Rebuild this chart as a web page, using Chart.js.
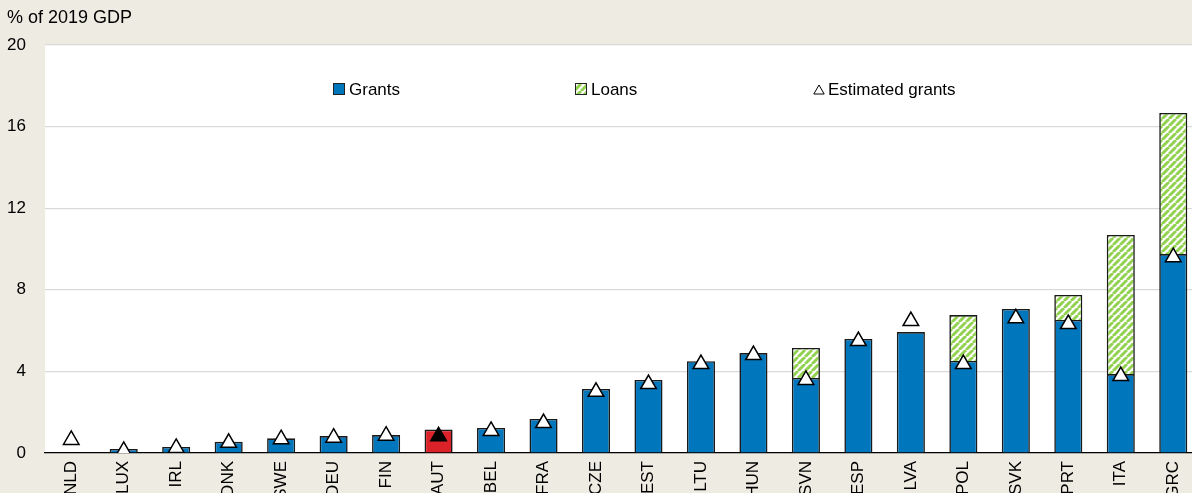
<!DOCTYPE html>
<html>
<head>
<meta charset="utf-8">
<script src="https://cdn.jsdelivr.net/npm/chart.js@4/dist/chart.umd.min.js"></script>
<style>
  html, body { margin: 0; padding: 0; background: #edebe2; overflow: hidden; }
  #wrap { position: relative; width: 1210px; height: 493px; }
</style>
</head>
<body>
<div id="wrap"><canvas id="chart"></canvas></div>
<script>
// Recovery and Resilience Facility, % of 2019 GDP
const COUNTRIES = ['NLD', 'LUX', 'IRL', 'DNK', 'SWE', 'DEU', 'FIN', 'AUT', 'BEL', 'FRA', 'CZE',
  'EST', 'LTU', 'HUN', 'SVN', 'ESP', 'LVA', 'POL', 'SVK', 'PRT', 'ITA', 'GRC']
const GRANTS = [0, 0.2, 0.3, 0.55, 0.72, 0.83, 0.88, 1.15, 1.23, 1.67, 3.14,
  3.58, 4.5, 4.9, 3.68, 5.59, 5.93, 4.51, 7.06, 6.52, 3.87, 9.75]
const LOANS = [0, 0, 0, 0, 0, 0, 0, 0, 0, 0, 0,
  0, 0, 0, 1.47, 0, 0, 2.25, 0, 1.23, 6.82, 6.92]
const ESTIMATED = [0.64, 0.1, 0.25, 0.5, 0.68, 0.75, 0.85, 0.82, 1.08, 1.47, 3.0,
  3.38, 4.36, 4.8, 3.58, 5.49, 6.47, 4.36, 6.6, 6.32, 3.77, 9.6]
const Y_TICKS = [0, 4, 8, 12, 16, 20]
const HIGHLIGHT = 'AUT'

const FONT = '"Liberation Sans", Arial, sans-serif'
const BLUE = '#0076bd'
const RED = '#dc2229'
const GREEN = '#93d150'

function stripes () {
  const size = 7
  const tile = document.createElement('canvas')
  tile.width = size
  tile.height = size
  const g = tile.getContext('2d')
  g.fillStyle = '#ffffff'
  g.fillRect(0, 0, size, size)
  g.strokeStyle = GREEN
  g.lineWidth = 3
  g.beginPath()
  for (const o of [-size, 0, size]) {
    g.moveTo(o, size)
    g.lineTo(o + size, 0)
  }
  g.stroke()
  return g.createPattern(tile, 'repeat')
}

const LOAN_FILL = stripes()

// white plot area on the beige page
const plotBackground = {
  id: 'plotBackground',
  beforeDraw (chart) {
    const { ctx, chartArea } = chart
    ctx.save()
    ctx.fillStyle = '#ffffff'
    ctx.fillRect(chartArea.left, chartArea.top, chartArea.right - chartArea.left, chartArea.bottom - chartArea.top)
    ctx.restore()
  }
}

// axis unit label and the legend row inside the plot
const annotations = {
  id: 'annotations',
  afterDraw (chart) {
    const ctx = chart.ctx
    ctx.save()
    ctx.fillStyle = '#000'
    ctx.textBaseline = 'middle'
    ctx.textAlign = 'left'
    ctx.font = '18px ' + FONT
    ctx.fillText('% of 2019 GDP', 7, 18)

    const y = 89
    ctx.font = '17px ' + FONT
    const sets = chart.data.datasets

    // Grants
    ctx.fillStyle = BLUE
    ctx.fillRect(333, y - 6, 12, 12)
    ctx.strokeStyle = '#222'
    ctx.lineWidth = 1
    ctx.strokeRect(333.5, y - 5.5, 11, 11)
    ctx.fillStyle = '#000'
    ctx.fillText(sets[0].label, 349, y + 1)

    // Loans
    ctx.fillStyle = LOAN_FILL
    ctx.fillRect(575, y - 6, 12, 12)
    ctx.strokeRect(575.5, y - 5.5, 11, 11)
    ctx.fillStyle = '#000'
    ctx.fillText(sets[1].label, 591, y + 1)

    // Estimated grants
    ctx.fillStyle = '#fff'
    ctx.strokeStyle = '#000'
    Chart.helpers.drawPoint(ctx, { pointStyle: 'triangle', radius: 6, borderWidth: 1 }, 819, y + 2)
    ctx.fillStyle = '#000'
    ctx.fillText(sets[2].label, 828, y + 1)
    ctx.restore()
  }
}

new Chart(document.getElementById('chart'), {
  type: 'bar',
  data: {
    labels: COUNTRIES,
    datasets: [
      {
        label: 'Grants',
        data: GRANTS.map((v) => (v > 0 ? v : null)),
        backgroundColor: COUNTRIES.map((c) => (c === HIGHLIGHT ? RED : BLUE)),
        borderColor: '#1a1a1a',
        borderWidth: 1.6,
        stack: 'rrf',
        order: 2,
        barPercentage: 0.535,
        categoryPercentage: 1
      },
      {
        label: 'Loans',
        data: LOANS.map((v) => (v > 0 ? v : null)),
        backgroundColor: LOAN_FILL,
        borderColor: '#1a1a1a',
        borderWidth: 1.6,
        stack: 'rrf',
        order: 2,
        barPercentage: 0.535,
        categoryPercentage: 1
      },
      {
        type: 'line',
        label: 'Estimated grants',
        data: ESTIMATED,
        showLine: false,
        stack: 'estimate',
        order: 0,
        pointStyle: 'triangle',
        pointRadius: 9,
        pointHoverRadius: 9,
        pointBackgroundColor: COUNTRIES.map((c) => (c === HIGHLIGHT ? '#000' : '#fff')),
        pointBorderColor: '#000',
        pointBorderWidth: 1.5
      }
    ]
  },
  options: {
    responsive: true,
    maintainAspectRatio: false,
    devicePixelRatio: 1,
    animation: false,
    layout: { padding: { top: 45, left: 0, right: 0, bottom: 0 } },
    plugins: {
      legend: { display: false },
      tooltip: { enabled: false }
    },
    scales: {
      x: {
        stacked: true,
        grid: { display: false },
        border: { display: true, color: '#000', width: 1.2 },
        ticks: {
          color: '#000',
          font: { family: FONT, size: 17 },
          autoSkip: false,
          minRotation: 90,
          maxRotation: 90,
          padding: 0
        },
        afterFit (scale) { scale.height = 40 }
      },
      y: {
        stacked: true,
        min: Y_TICKS[0],
        max: Y_TICKS[Y_TICKS.length - 1],
        afterBuildTicks (scale) { scale.ticks = Y_TICKS.map((value) => ({ value })) },
        grid: { color: '#d9d9d9', lineWidth: 1.2, drawTicks: false },
        border: { display: false },
        ticks: {
          color: '#000',
          font: { family: FONT, size: 17 },
          padding: 19
        },
        afterFit (scale) { scale.width = 45 }
      }
    }
  },
  plugins: [plotBackground, annotations]
})
</script>
</body>
</html>
